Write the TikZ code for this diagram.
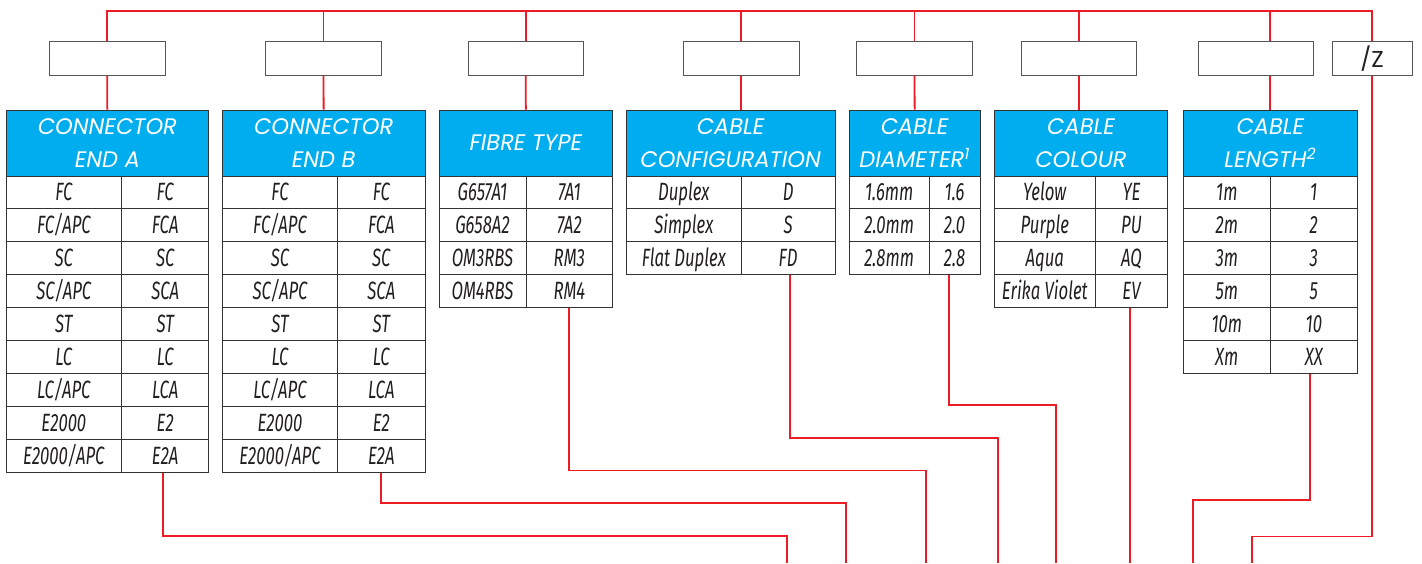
\documentclass[tikz,border=0pt]{standalone}
\usepackage{fontspec}
\setmainfont{Poppins}
\newfontfamily\hdrfont{Poppins}
\newfontfamily\bodyfont{Fira Sans}[FakeStretch=0.67]
\definecolor{rd}{HTML}{ED1C24}
\definecolor{cy}{HTML}{00AEEF}
\definecolor{bd}{HTML}{333333}
\definecolor{tx}{HTML}{231F20}
\definecolor{bx}{HTML}{555555}

\newcommand\mktable[6]{% name, x0, xdiv, x1, header, rows
  \node[hdr, minimum width={#4-#2}] (#1-h) at ({(#2+#4)/2},143) {#5};
  \foreach [count=\i] \a/\b in {#6} {
    \pgfmathsetmacro\yy{176+32.9*(\i-0.5)}
    \node[cellbox, minimum width={#3-#2}] (#1-\i-l) at ({(#2+#3)/2},\yy) {\a};
    \node[cellbox, minimum width={#4-#3}] (#1-\i-r) at ({(#3+#4)/2},\yy) {\b};
  }
}

\begin{document}
\begin{tikzpicture}[x=1pt,y=-1pt,
  hdr/.style={fill=cy, draw=bd, line width=1pt, text=white, minimum height=66pt,
    font=\hdrfont\itshape\fontsize{22.5}{33}\selectfont, align=center, inner sep=0pt},
  cellbox/.style={draw=bd, line width=1pt, text=tx, minimum height=32.9pt,
    font=\bodyfont\itshape\fontsize{25}{26}\selectfont, inner sep=0pt,
    text height=17pt, text depth=0pt},
  codebox/.style={draw=bx, line width=1pt, fill=white, minimum height=33.3pt,
    inner sep=0pt, font=\fontsize{23}{24}\selectfont, text=tx},
  wire/.style={draw=rd, line width=1.8pt}]

\useasboundingbox (0,0) rectangle (1422,563);

% tables
\mktable{A}{6}{121.7}{208.7}{CONNECTOR\\END A}{FC/FC,{FC/APC}/FCA,SC/SC,{SC/APC}/SCA,ST/ST,LC/LC,{LC/APC}/LCA,E2000/E2,{E2000/APC}/E2A}
\mktable{B}{222.3}{337.7}{425}{CONNECTOR\\END B}{FC/FC,{FC/APC}/FCA,SC/SC,{SC/APC}/SCA,ST/ST,LC/LC,{LC/APC}/LCA,E2000/E2,{E2000/APC}/E2A}
\mktable{F}{439}{526}{612.7}{FIBRE TYPE}{G657A1/7A1,G658A2/7A2,OM3RBS/RM3,OM4RBS/RM4}
\mktable{C}{626.3}{741.3}{835}{CABLE\\CONFIGURATION}{Duplex/D,Simplex/S,Flat Duplex/FD}
\mktable{D}{849.3}{929}{980}{CABLE\\DIAMETER\textsuperscript{1}}{1.6mm/1.6,2.0mm/2.0,2.8mm/2.8}
\mktable{K}{994.3}{1095.3}{1167.7}{CABLE\\COLOUR}{Yelow/YE,Purple/PU,Aqua/AQ,Erika Violet/EV}
\mktable{L}{1183.3}{1270.3}{1357.3}{CABLE\\LENGTH\textsuperscript{2}}{1m/1,2m/2,3m/3,5m/5,10m/10,Xm/XX}

% code boxes
\node[codebox, minimum width=116] (b1) at (107.3,58.35) {};
\node[codebox, minimum width=115.6] (b2) at (323.5,58.35) {};
\node[codebox, minimum width=115] (b3) at (525.8,58.35) {};
\node[codebox, minimum width=116] (b4) at (741.3,58.35) {};
\node[codebox, minimum width=115.6] (b5) at (914.5,58.35) {};
\node[codebox, minimum width=115.4] (b6) at (1079,58.35) {};
\node[codebox, minimum width=115.4] (b7) at (1256,58.35) {};
\node[codebox, minimum width=80.3] (b8) at (1372.15,58.35) {/Z};

% bus
\coordinate (tA) at (107.3,11);
\coordinate (tZ) at (1372.15,11);
\draw[wire] (b1.north) -- (tA) -- (tZ) -- (b8.north);
\foreach \n in {b2,b3,b4,b5,b6} \draw[wire] (\n.north) -- (\n.north |- tA);
\draw[wire] (L-h.north |- b7.north) -- (L-h.north |- tA);

% box to header
\draw[wire] (b1.south) -- (A-h.north);
\draw[wire] (b2.south) -- (B-h.north);
\draw[wire] (b3.south) -- (F-h.north);
\draw[wire] (b4.south) -- (b4.south |- C-h.north);
\draw[wire] (b5.south) -- (D-h.north);
\draw[wire] (b6.south) -- (b6.south |- K-h.north);
\draw[wire] (L-h.north |- b7.south) -- (L-h.north);

% bottom ends
\coordinate (e1) at (787.3,563);
\coordinate (e2) at (845.7,563);
\coordinate (e3) at (925.7,563);
\coordinate (e4) at (997.7,563);
\coordinate (e5) at (1055.7,563);
\coordinate (e7) at (1193.3,563);
\coordinate (e8) at (1251.7,563);

\draw[wire] ([xshift=-1.9pt]A-9-r.south) -- ++(0,63) -| (e1);
\draw[wire] (B-9-r.south) -- ++(0,30.6) -| (e2);
\draw[wire] (F-4-r.south) -- ++(0,162.4) -| (e3);
\draw[wire] ([xshift=2pt]C-3-r.south) -- ++(0,163) -| (e4);
\draw[wire] ([xshift=-5.2pt]D-3-r.south) -- ++(0,129.7) -| (e5);
\draw[wire] ([xshift=-1.5pt]K-4-r.south) -- ++(0,255.3);
\draw[wire] ([xshift=-3.8pt]L-6-r.south) -- ++(0,126.4) -| (e7);
\draw[wire] (b8.south) -- ++(0,461) -| (e8);
\end{tikzpicture}
\end{document}
